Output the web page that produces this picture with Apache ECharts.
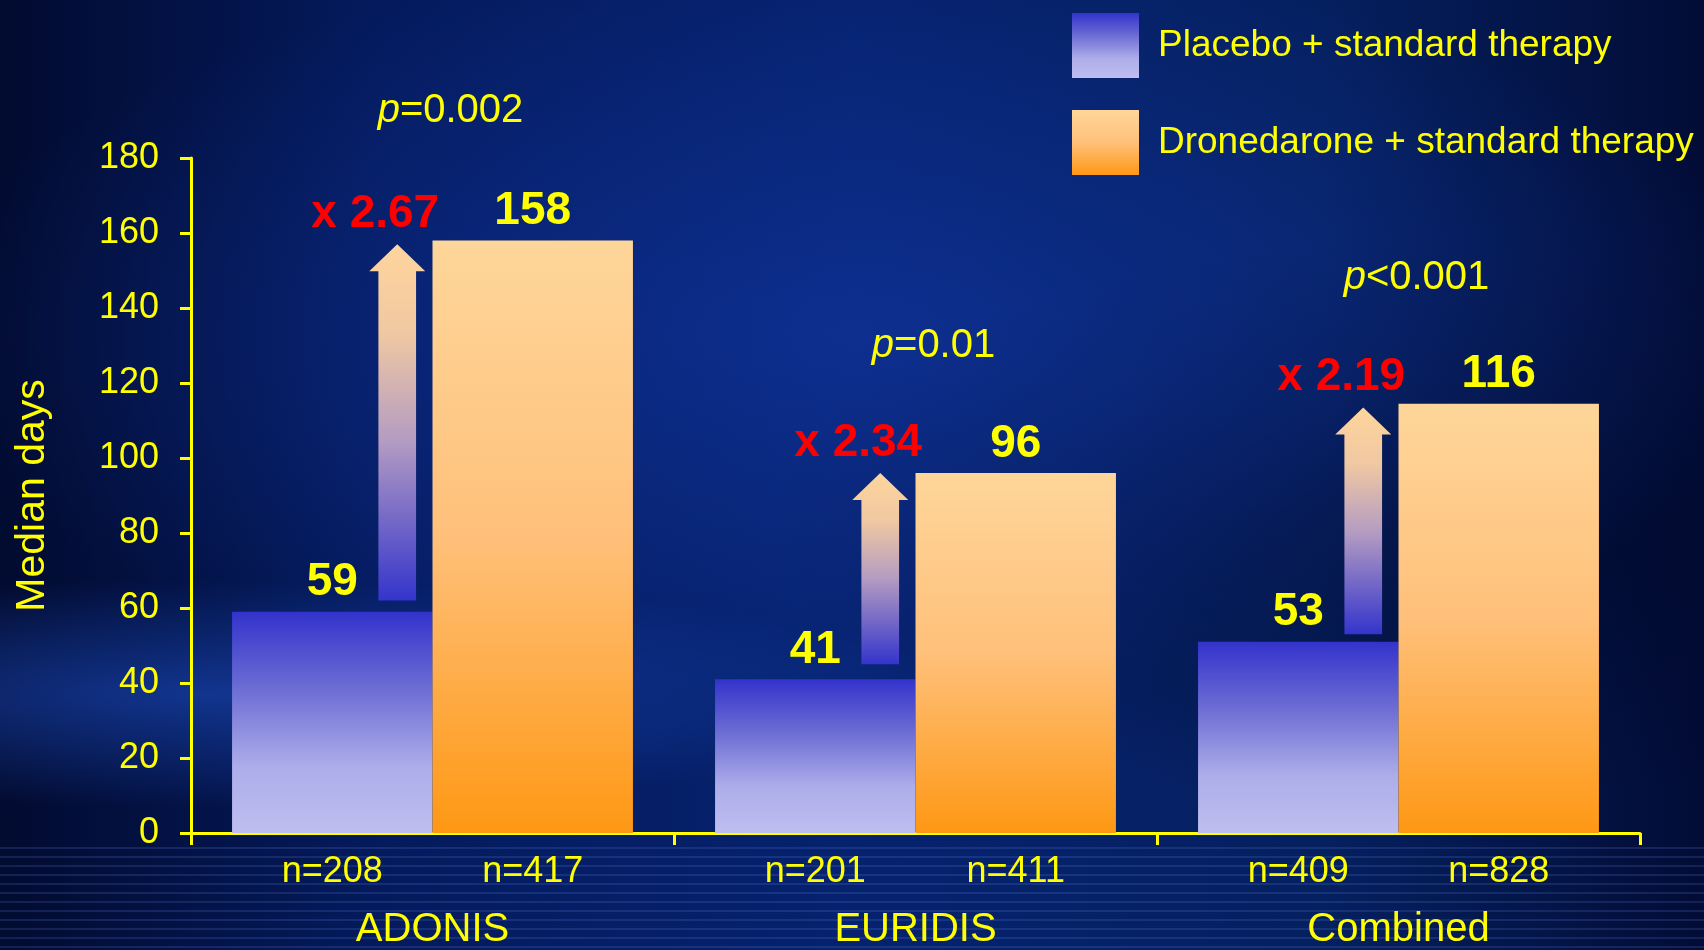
<!DOCTYPE html>
<html>
<head>
<meta charset="utf-8">
<title>Median days</title>
<script src="https://cdn.jsdelivr.net/npm/echarts@6/dist/echarts.min.js"></script>
<style>
  html, body { margin: 0; padding: 0; }
  #main {
    width: 1704px;
    height: 950px;
    background:
      repeating-linear-gradient(to bottom, rgba(0,0,0,0) 0px, rgba(0,0,0,0) 7px, rgba(110,150,255,0.16) 7px, rgba(110,150,255,0.16) 9px) left bottom / 100% 110px no-repeat,
      radial-gradient(ellipse 45% 12% at 12% 73%, rgba(30,80,200,0.55), rgba(30,80,200,0) 100%),
      radial-gradient(ellipse 55% 40% at 50% 35%, rgba(18,55,165,0.6), rgba(18,55,165,0) 100%),
      radial-gradient(ellipse 40% 30% at 85% 55%, rgba(0,8,40,0.6), rgba(0,8,40,0) 100%),
      linear-gradient(90deg, #020b30 0%, #041a5c 22%, #06226e 50%, #05205f 78%, #020c36 100%);
  }
</style>
</head>
<body>
<div id="main"></div>
<script>
  // 数据
  var categories = ['ADONIS', 'EURIDIS', 'Combined'];
  var placeboDays = [59, 41, 51];
  var dronedaroneDays = [158, 96, 114.5];
  var placeboText = ['59', '41', '53'];
  var dronedaroneText = ['158', '96', '116'];
  var placeboN = ['n=208', 'n=201', 'n=409'];
  var dronedaroneN = ['n=417', 'n=411', 'n=828'];
  var ratioText = ['x 2.67', 'x 2.34', 'x 2.19'];
  var arrowFrom = [62, 45, 53];
  var arrowTo = [157, 96, 113.5];
  var pText = ['=0.002', '=0.01', '<0.001'];
  var pLevel = [192.5, 130, 148];
  var yTicks = [0, 20, 40, 60, 80, 100, 120, 140, 160, 180];

  var YELLOW = '#ffff00';
  var FONT = 'Liberation Sans, Arial, sans-serif';

  var placeboColor = new echarts.graphic.LinearGradient(0, 0, 0, 1, [
    { offset: 0, color: '#3333cc' },
    { offset: 0.35, color: '#6d6dd4' },
    { offset: 0.7, color: '#adadea' },
    { offset: 1, color: '#bebef0' },
  ]);
  var droneColor = new echarts.graphic.LinearGradient(0, 0, 0, 1, [
    { offset: 0, color: '#fed69a' },
    { offset: 0.5, color: '#ffc07a' },
    { offset: 1, color: '#fe9814' },
  ]);

  var chart = echarts.init(document.getElementById('main'), null, { renderer: 'canvas' });

  chart.setOption({
    backgroundColor: 'transparent',
    animation: false,
    textStyle: { fontFamily: FONT },
    legend: {
      data: ['Placebo + standard therapy', 'Dronedarone + standard therapy'],
      orient: 'vertical',
      left: 1067,
      top: 8,
      itemWidth: 67,
      itemHeight: 65,
      itemGap: 32,
      icon: 'rect',
      textStyle: {
        color: YELLOW,
        fontSize: 37,
        fontFamily: FONT,
        padding: [0, 0, 0, 14],
      },
    },
    grid: {
      left: 191,
      right: 64,
      top: 158,
      bottom: 111,
    },
    xAxis: [
      {
        type: 'category',
        data: categories,
        axisLine: { lineStyle: { color: YELLOW, width: 3 } },
        axisTick: { show: true, length: 12, lineStyle: { color: YELLOW, width: 3 } },
        axisLabel: { color: YELLOW, fontSize: 40, margin: 77, fontFamily: FONT },
      },
    ],
    yAxis: [
      {
        type: 'value',
        min: 0,
        max: 180,
        interval: 20,
        name: 'Median days',
        nameLocation: 'middle',
        nameRotate: 90,
        nameGap: 138,
        nameTextStyle: { color: YELLOW, fontSize: 41, fontFamily: FONT },
        axisLine: { show: true, lineStyle: { color: YELLOW, width: 3 } },
        axisTick: { show: true, length: 11, lineStyle: { color: YELLOW, width: 3 } },
        splitLine: { show: false },
        axisLabel: {
          color: YELLOW,
          fontSize: 36,
          margin: 32,
          fontFamily: FONT,
          formatter: function (v) {
            return yTicks.indexOf(v) > -1 ? String(v) : '';
          },
        },
      },
    ],
    series: [
      // 0高度的柱子，只用来放 n= 标签
      {
        name: 'nPlacebo',
        type: 'bar',
        stack: 'placebo',
        data: placeboDays.map(function () { return 0; }),
        itemStyle: { color: 'transparent' },
        label: {
          show: true,
          position: 'bottom',
          distance: 21,
          color: YELLOW,
          fontSize: 36,
          fontFamily: FONT,
          formatter: function (p) { return placeboN[p.dataIndex]; },
        },
      },
      {
        name: 'nDrone',
        type: 'bar',
        stack: 'drone',
        data: dronedaroneDays.map(function () { return 0; }),
        itemStyle: { color: 'transparent' },
        label: {
          show: true,
          position: 'bottom',
          distance: 21,
          color: YELLOW,
          fontSize: 36,
          fontFamily: FONT,
          formatter: function (p) { return dronedaroneN[p.dataIndex]; },
        },
      },
      {
        name: 'Placebo + standard therapy',
        type: 'bar',
        stack: 'placebo',
        barGap: 0,
        barCategoryGap: '17%',
        data: placeboDays,
        itemStyle: { color: placeboColor },
        label: {
          show: true,
          position: 'top',
          distance: 6,
          color: YELLOW,
          fontSize: 46,
          fontWeight: 'bold',
          fontFamily: FONT,
          formatter: function (p) { return placeboText[p.dataIndex]; },
        },
      },
      {
        name: 'Dronedarone + standard therapy',
        type: 'bar',
        stack: 'drone',
        barGap: 0,
        barCategoryGap: '17%',
        data: dronedaroneDays,
        itemStyle: { color: droneColor },
        label: {
          show: true,
          position: 'top',
          distance: 6,
          color: YELLOW,
          fontSize: 46,
          fontWeight: 'bold',
          fontFamily: FONT,
          formatter: function (p) { return dronedaroneText[p.dataIndex]; },
        },
      },
      // 箭头 + 倍数
      {
        name: 'arrows',
        type: 'custom',
        data: categories.map(function (c, i) { return [i, arrowFrom[i], arrowTo[i]]; }),
        z: 5,
        renderItem: function (params, api) {
          var i = params.dataIndex;
          var base = api.coord([api.value(0), api.value(1)]);
          var tip = api.coord([api.value(0), api.value(2)]);
          var band = api.size([1, 0])[0];
          var cx = base[0] - band * 0.073;
          var sw = band * 0.039;
          var hw = band * 0.058;
          var hh = 27;
          return {
            type: 'group',
            children: [
              {
                type: 'polygon',
                shape: {
                  points: [
                    [cx - sw, base[1]],
                    [cx - sw, tip[1] + hh],
                    [cx - hw, tip[1] + hh],
                    [cx, tip[1]],
                    [cx + hw, tip[1] + hh],
                    [cx + sw, tip[1] + hh],
                    [cx + sw, base[1]],
                  ],
                },
                style: {
                  fill: new echarts.graphic.LinearGradient(0, 0, 0, 1, [
                    { offset: 0, color: '#fed59c' },
                    { offset: 0.25, color: '#f0c8a2' },
                    { offset: 0.55, color: '#b49cc2' },
                    { offset: 1, color: '#3434cc' },
                  ]),
                },
              },
              {
                type: 'text',
                style: {
                  text: ratioText[i],
                  x: cx - 22,
                  y: tip[1] - 30,
                  align: 'center',
                  verticalAlign: 'middle',
                  fill: '#ff0000',
                  fontSize: 46,
                  fontWeight: 'bold',
                  fontFamily: FONT,
                },
              },
            ],
          };
        },
      },
      // p 值
      {
        name: 'pvalues',
        type: 'custom',
        data: categories.map(function (c, i) { return [i, pLevel[i]]; }),
        z: 5,
        renderItem: function (params, api) {
          var i = params.dataIndex;
          var pt = api.coord([api.value(0), api.value(1)]);
          return {
            type: 'text',
            style: {
              text: '{i|p}' + pText[i],
              x: pt[0] + 18,
              y: pt[1],
              align: 'center',
              verticalAlign: 'middle',
              fill: YELLOW,
              fontSize: 40,
              fontFamily: FONT,
              rich: {
                i: { fontStyle: 'italic', fill: YELLOW, fontSize: 40, fontFamily: FONT },
              },
            },
          };
        },
      },
    ],
  });
</script>
</body>
</html>
